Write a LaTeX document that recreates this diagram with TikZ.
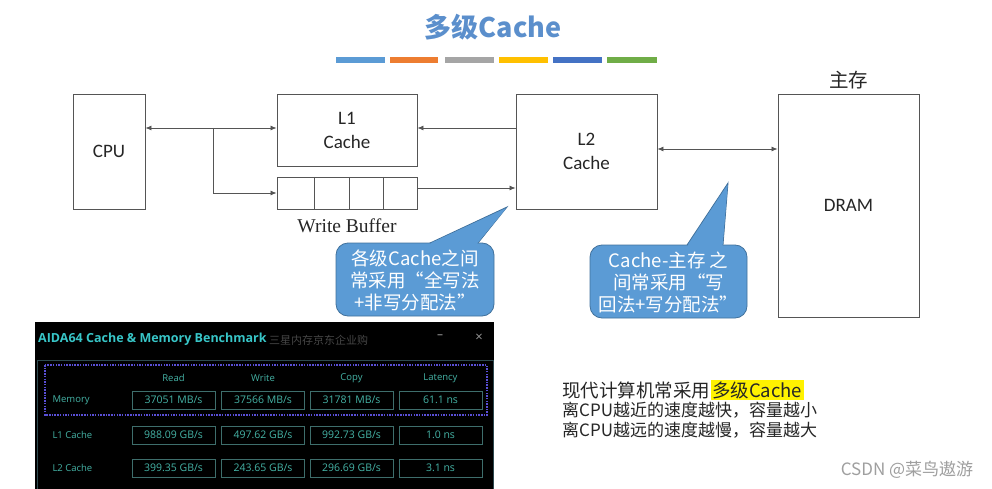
\documentclass[tikz,border=0pt]{standalone}
\usepackage{fontspec}
\setmainfont{Carlito}
\newfontfamily\cjk{Noto Sans CJK SC}
\newfontfamily\serifwb{Liberation Serif}
\newfontfamily\aidafont{Open Sans}
\usetikzlibrary{arrows.meta}
\definecolor{titleblue}{HTML}{5B8FCC}
\definecolor{barA}{HTML}{5B9BD5}
\definecolor{barB}{HTML}{ED7D31}
\definecolor{barC}{HTML}{A5A5A5}
\definecolor{barD}{HTML}{FFC000}
\definecolor{barE}{HTML}{4472C4}
\definecolor{barF}{HTML}{70AD47}
\definecolor{linegray}{HTML}{555555}
\definecolor{callfill}{HTML}{5B9BD5}
\definecolor{callborder}{HTML}{41719C}
\definecolor{aidacyan}{HTML}{38C6C8}
\definecolor{aidatext}{HTML}{45B3A6}
\definecolor{aidabox}{HTML}{3E6E6C}
\definecolor{aidaline}{HTML}{2E4A50}
\definecolor{aidapurple}{HTML}{5A4FD6}
\definecolor{hlyellow}{HTML}{FFF200}
\tikzset{
  blockbox/.style={draw=linegray, line width=0.9pt, fill=white, inner sep=0pt, align=center,
    font=\fontsize{19}{24}\selectfont, text=black!85},
  conn/.style={draw=linegray, line width=0.8pt},
  tip/.style={-{Latex[length=6pt,width=5pt]}},
  bitip/.style={{Latex[length=6pt,width=5pt]}-{Latex[length=6pt,width=5pt]}},
  callout/.style={fill=callfill, draw=callborder, line width=0.8pt},
  callouttext/.style={text=white, align=center, font=\cjk\fontsize{18.5}{22}\selectfont},
  aidabox/.style={draw=aidabox, line width=0.8pt, minimum width=83pt, minimum height=18pt, inner sep=0pt,
    text=aidatext, font=\aidafont\fontsize{10.5}{11}\selectfont},
  aidalabel/.style={text=aidatext, font=\aidafont\fontsize{9.5}{10}\selectfont},
  bodytext/.style={anchor=west, inner sep=0pt, font=\cjk\fontsize{17}{20}\selectfont, text=black!85},
}
\begin{document}
\begin{tikzpicture}[x=1pt,y=-1pt]
\useasboundingbox (0,0) rectangle (992,489);
\fill[white] (0,0) rectangle (992,489);

% title and colour bars
\node[font=\cjk\bfseries\fontsize{27}{32}\selectfont, text=titleblue] (title) at (493,27) {多级Cache};
\fill[barA] (336,57) rectangle (385,63);
\fill[barB] (390,57) rectangle (438,63);
\fill[barC] (445,57) rectangle (494,63);
\fill[barD] (499,57) rectangle (548,63);
\fill[barE] (553,57) rectangle (602,63);
\fill[barF] (607,57) rectangle (657,63);

% blocks
\node[blockbox, minimum width=72pt, minimum height=115pt] (cpu) at (109,151.5) {CPU};
\node[blockbox, minimum width=140pt, minimum height=72pt] (l1) at (347,130) {L1\\Cache};
\node[blockbox, minimum width=140pt, minimum height=32pt] (wb) at (347,193) {};
\draw[linegray, line width=0.9pt] (314,177) -- (314,209) (349,177) -- (349,209) (383,177) -- (383,209);
\node[font=\serifwb\fontsize{19.5}{23}\selectfont, text=black!85] (wblabel) at (347,226) {Write Buffer};
\node[blockbox, minimum width=141pt, minimum height=115pt] (l2) at (586.5,151.5) {L2\\Cache};
\node[blockbox, minimum width=141pt, minimum height=223pt] (dram) at (848.5,205.5) {DRAM};
\node[font=\cjk\fontsize{19.5}{23}\selectfont, text=black!85] (mainmem) at (848.5,80) {主存};

% connectors
\coordinate (r1) at (0,128);
\coordinate (r2) at (0,188);
\coordinate (r3) at (0,149);
\coordinate (br) at (213,128);
\draw[conn, bitip] (cpu.east |- r1) -- (l1.west |- r1);
\draw[conn, tip] (br) |- (wb.west);
\draw[conn, tip] (l2.west |- r1) -- (l1.east |- r1);
\draw[conn, tip] (wb.east |- r2) -- (l2.west |- r2);
\draw[conn, bitip] (l2.east |- r3) -- (dram.west |- r3);

% callout 1
\filldraw[callout] (507,207) -- (430,243) -- (478,243) -- cycle;
\filldraw[callout, rounded corners=12pt] (336,243) rectangle (494,316);
\fill[callfill] (506,208.5) -- (431,243) -- (431,247) -- (477,247) -- (477.5,243) -- cycle;
\node[callouttext] (c1) at (415,280) {各级Cache之间\\常采用“全写法\\+非写分配法”};

% callout 2
\filldraw[callout] (728,183) -- (687,245) -- (723,245) -- cycle;
\filldraw[callout, rounded corners=12pt] (590,245) rectangle (747,318);
\fill[callfill] (727.6,185) -- (688,245) -- (688,249) -- (722.5,249) -- (722.6,245) -- cycle;
\node[callouttext] (c2) at (668.5,282) {Cache-主存 之\\间常采用“写\\回法+写分配法”};

% AIDA64 window
\fill[black] (35,322) rectangle (494,489);
\node[anchor=west, inner sep=0pt, text=aidacyan, font=\aidafont\bfseries\fontsize{12.5}{14}\selectfont] (aidatitle) at (38,339) {AIDA64 Cache \& Memory Benchmark};
\node[anchor=west, inner sep=0pt, text=gray!55!black, font=\cjk\fontsize{11}{12}\selectfont] (aidasub) at (269,340) {三星内存京东企业购};
\node[text=gray!70, font=\aidafont\fontsize{12}{14}\selectfont] (aidamin) at (440,337) {–};
\node[text=gray!80, font=\aidafont\fontsize{13}{14}\selectfont] (aidaclose) at (479,338) {×};
\begin{scope}
\clip (35,322) rectangle (494,489);
\draw[aidaline, line width=0.8pt] (37,360) rectangle (493,500);
\end{scope}
\draw[aidapurple, line width=1.2pt, dash pattern=on 1.5pt off 1.2pt] (45,365) rectangle (487,415);
\node[aidalabel] (hRead) at (173.5,378) {Read};
\node[aidalabel] (hWrite) at (263,378) {Write};
\node[aidalabel] (hCopy) at (351.5,378) {Copy};
\node[aidalabel] (hLat) at (440.5,378) {Latency};
\node[aidalabel, anchor=west] (rMem) at (49,400) {Memory};
\node[aidalabel, anchor=west] (rL1) at (49,435) {L1 Cache};
\node[aidalabel, anchor=west] (rL2) at (49,468) {L2 Cache};
\node[aidabox] (m1) at (173.5,400) {37051 MB/s};
\node[aidabox] (m2) at (263,400) {37566 MB/s};
\node[aidabox] (m3) at (351.5,400) {31781 MB/s};
\node[aidabox] (m4) at (440.5,400) {61.1 ns};
\node[aidabox] (a1) at (173.5,435) {988.09 GB/s};
\node[aidabox] (a2) at (263,435) {497.62 GB/s};
\node[aidabox] (a3) at (351.5,435) {992.73 GB/s};
\node[aidabox] (a4) at (440.5,435) {1.0 ns};
\node[aidabox] (b1) at (173.5,468) {399.35 GB/s};
\node[aidabox] (b2) at (263,468) {243.65 GB/s};
\node[aidabox] (b3) at (351.5,468) {296.69 GB/s};
\node[aidabox] (b4) at (440.5,468) {3.1 ns};

% bottom-right text
\node[bodytext, font=\cjk\fontsize{18.5}{20}\selectfont] (t1) at (562,390) {现代计算机常采用};
\node[bodytext, font=\cjk\fontsize{18.5}{20}\selectfont, fill=hlyellow, inner sep=1.5pt, anchor=west] (t1b) at (t1.east) {多级Cache};
\node[bodytext] (t2) at (562,410) {离CPU越近的速度越快，容量越小};
\node[bodytext] (t3) at (562,430) {离CPU越远的速度越慢，容量越大};

% watermark
\node[text=gray!75, font=\cjk\fontsize{17}{20}\selectfont] (csdn) at (907,470) {CSDN @菜鸟遨游};
\end{tikzpicture}
\end{document}
